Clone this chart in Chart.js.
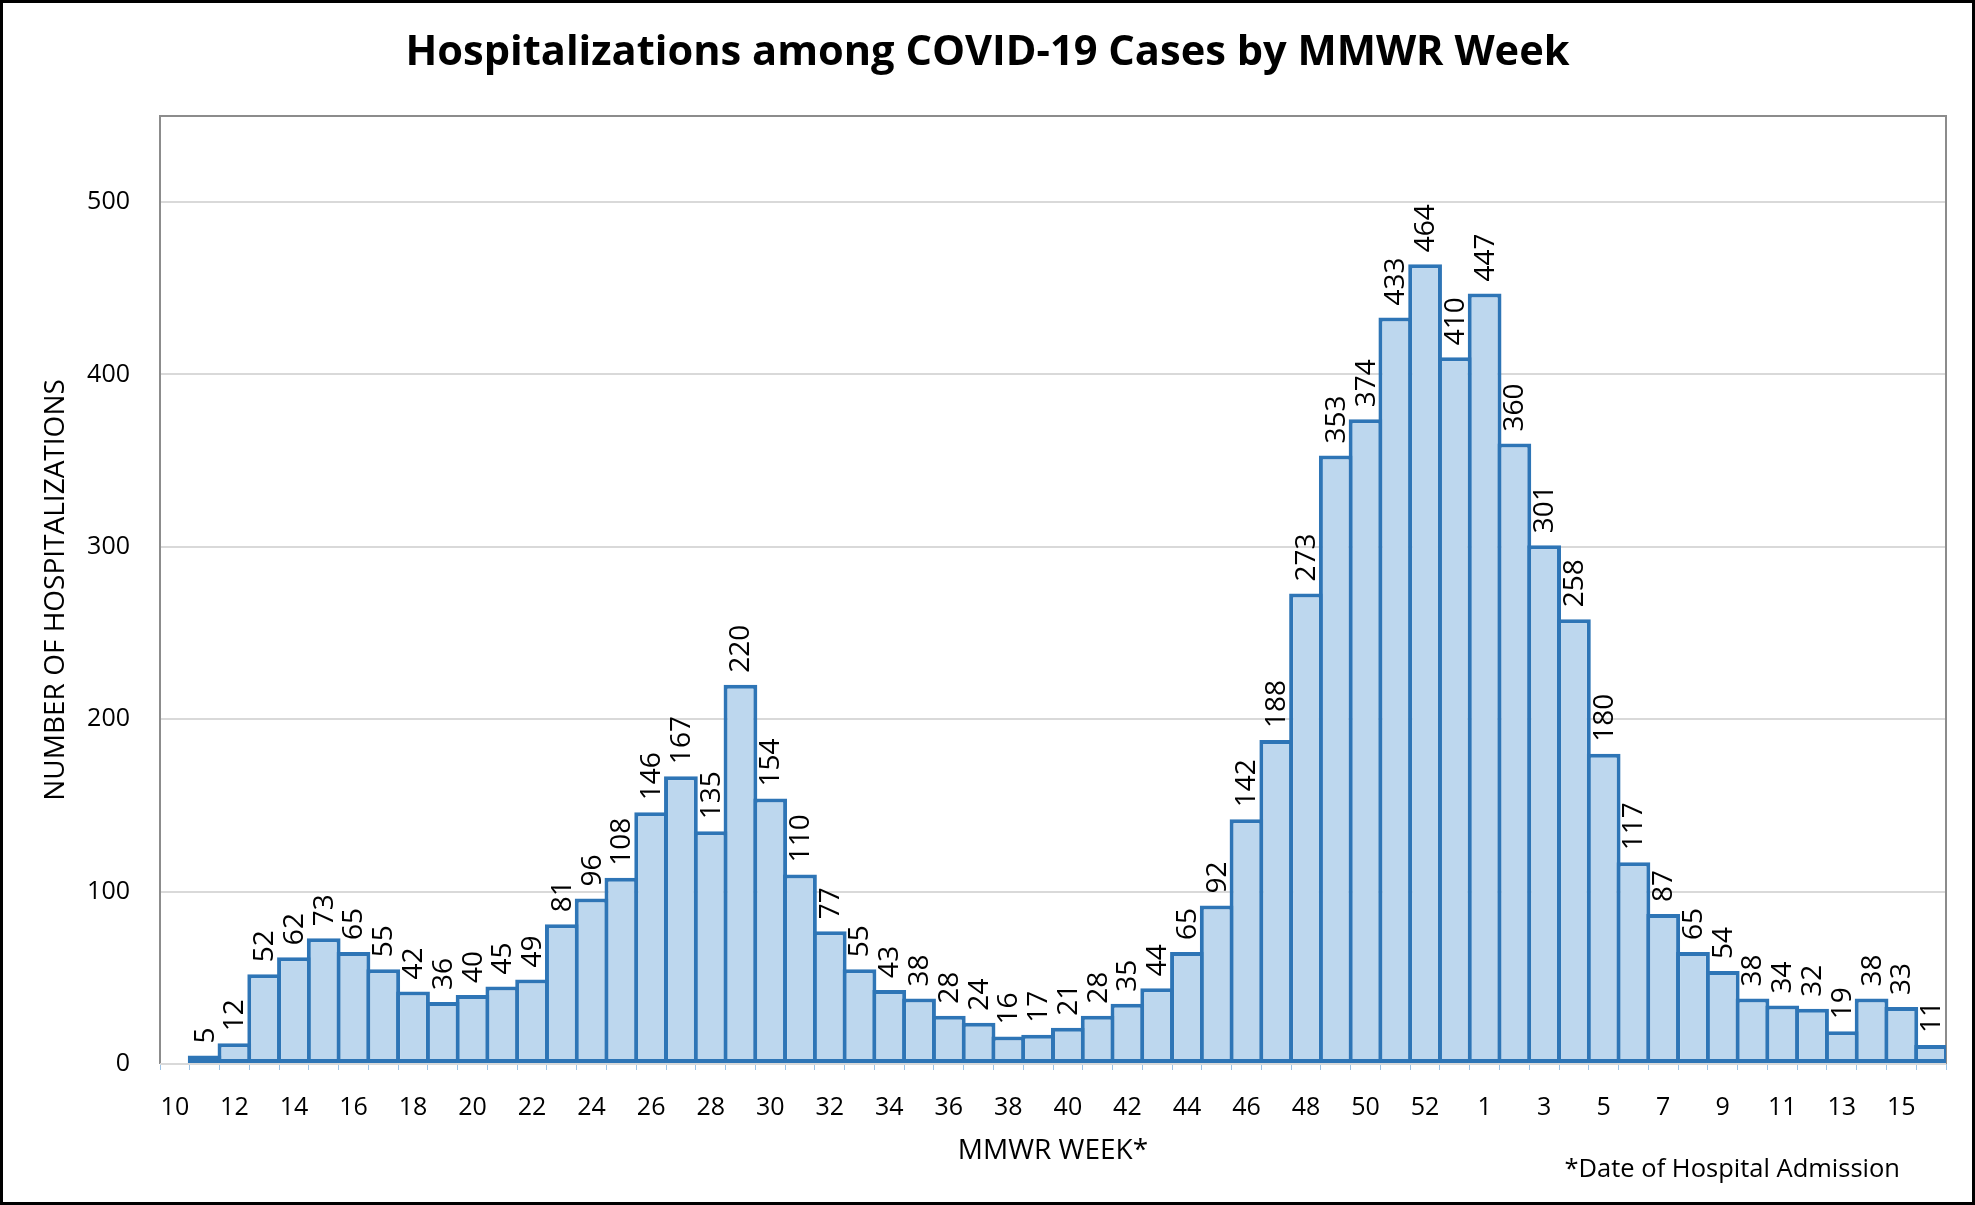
<!DOCTYPE html>
<html>
<head>
<meta charset="utf-8">
<script src="https://cdn.jsdelivr.net/npm/chart.js@4.4.1/dist/chart.umd.min.js"></script>
<style>
  html, body { margin: 0; padding: 0; background: #fff; }
  canvas { display: block; }
</style>
</head>
<body>
<canvas id="chart-hosp" width="1975" height="1205"></canvas>
<script>
// MMWR weeks: 10..53 of 2020, then 1..16 of 2021
const weekLabels = [
  '10','11','12','13','14','15','16','17','18','19','20','21','22','23','24','25','26','27','28','29',
  '30','31','32','33','34','35','36','37','38','39','40','41','42','43','44','45','46','47','48','49',
  '50','51','52','53',
  '1','2','3','4','5','6','7','8','9','10','11','12','13','14','15','16'
]
const hospitalizations = [
  null, 5, 12, 52, 62, 73, 65, 55, 42, 36, 40, 45, 49, 81, 96, 108, 146, 167, 135, 220,
  154, 110, 77, 55, 43, 38, 28, 24, 16, 17, 21, 28, 35, 44, 65, 92, 142, 188, 273, 353,
  374, 433, 464, 410,
  447, 360, 301, 258, 180, 117, 87, 65, 54, 38, 34, 32, 19, 38, 33, 11
]
const yMax = 550
const yStep = 100

const fontFamily = "'Open Sans', 'Liberation Sans', sans-serif"
const textColor = '#000'
const barFill = '#BDD7EE'
const barBorder = '#2E75B6'
const gridColor = '#d9d9d9'
const frameColor = '#8c8c8c'

const framePlugin = {
  id: 'frame',
  beforeDraw(chart) {
    const ctx = chart.ctx
    ctx.save()
    ctx.fillStyle = '#fff'
    ctx.fillRect(0, 0, chart.width, chart.height)
    ctx.restore()
  },
  beforeDatasetsDraw(chart) {
    const {ctx, chartArea: a} = chart
    ctx.save()
    ctx.lineWidth = 2
    ctx.strokeStyle = frameColor
    ctx.beginPath()
    ctx.moveTo(a.left, a.bottom)
    ctx.lineTo(a.left, a.top)
    ctx.lineTo(a.right, a.top)
    ctx.lineTo(a.right, a.bottom)
    ctx.stroke()
    ctx.strokeStyle = gridColor
    ctx.beginPath()
    ctx.moveTo(a.left, a.bottom)
    ctx.lineTo(a.right, a.bottom)
    ctx.stroke()
    ctx.restore()
  },
  afterDraw(chart) {
    const ctx = chart.ctx
    ctx.save()
    ctx.strokeStyle = '#000'
    ctx.lineWidth = 3
    ctx.strokeRect(1.5, 1.5, chart.width - 3, chart.height - 3)
    ctx.fillStyle = textColor
    ctx.font = '25.5px ' + fontFamily
    ctx.textAlign = 'right'
    ctx.textBaseline = 'middle'
    ctx.fillText('*Date of Hospital Admission', 1900, 1170)
    ctx.restore()
  }
}

const barLabels = {
  id: 'barLabels',
  afterDatasetsDraw(chart) {
    const ctx = chart.ctx
    const meta = chart.getDatasetMeta(0)
    ctx.save()
    ctx.fillStyle = textColor
    ctx.font = '28px ' + fontFamily
    ctx.textAlign = 'left'
    ctx.textBaseline = 'middle'
    meta.data.forEach((bar, i) => {
      const v = hospitalizations[i]
      if (v == null) return
      ctx.save()
      ctx.translate(bar.x + 1, bar.y - 12)
      ctx.rotate(-Math.PI / 2)
      ctx.fillText(String(v), 0, 0)
      ctx.restore()
    })
    ctx.restore()
  }
}

const ctxHosp = document.getElementById('chart-hosp').getContext('2d')

new Chart(ctxHosp, {
  type: 'bar',
  data: {
    labels: weekLabels,
    datasets: [{
      label: 'Hospitalizations',
      data: hospitalizations,
      backgroundColor: barFill,
      borderColor: barBorder,
      borderWidth: 4,
      borderSkipped: false,
      barPercentage: 1.134,
      categoryPercentage: 1
    }]
  },
  options: {
    responsive: false,
    animation: false,
    layout: { padding: { left: 29, right: 29, top: 0, bottom: 0 } },
    plugins: {
      legend: { display: false },
      tooltip: { enabled: false },
      title: {
        display: true,
        text: 'Hospitalizations among COVID-19 Cases by MMWR Week',
        color: textColor,
        font: { family: fontFamily, size: 41.6, weight: 'bold', lineHeight: 1.2 },
        padding: { top: 28, bottom: 38 }
      }
    },
    scales: {
      x: {
        offset: true,
        grid: { drawOnChartArea: false, drawTicks: true, tickLength: 6, color: '#9DC3E6', lineWidth: 1 },
        border: { display: false },
        ticks: {
          color: textColor,
          font: { family: fontFamily, size: 25 },
          autoSkip: false,
          maxRotation: 0,
          minRotation: 0,
          padding: 23,
          callback: (v, i) => (i % 2 === 0 ? weekLabels[i] : '')
        },
        title: {
          display: true,
          text: 'MMWR WEEK*',
          color: textColor,
          font: { family: fontFamily, size: 28, lineHeight: 1.25 },
          padding: { top: 0, bottom: 36.5 }
        },
        afterFit: (scale) => { scale.height = 141 }
      },
      y: {
        min: 0,
        max: yMax,
        grid: { color: gridColor, lineWidth: 2, drawTicks: false },
        border: { display: false },
        ticks: {
          stepSize: yStep,
          includeBounds: false,
          color: textColor,
          font: { family: fontFamily, size: 25 },
          padding: 30
        },
        title: {
          display: true,
          text: 'NUMBER OF HOSPITALIZATIONS',
          color: textColor,
          font: { family: fontFamily, size: 28, lineHeight: 1.25 },
          padding: { top: 10, bottom: 0 }
        },
        afterFit: (scale) => { scale.width = 131 }
      }
    }
  },
  plugins: [framePlugin, barLabels]
})
</script>
</body>
</html>
